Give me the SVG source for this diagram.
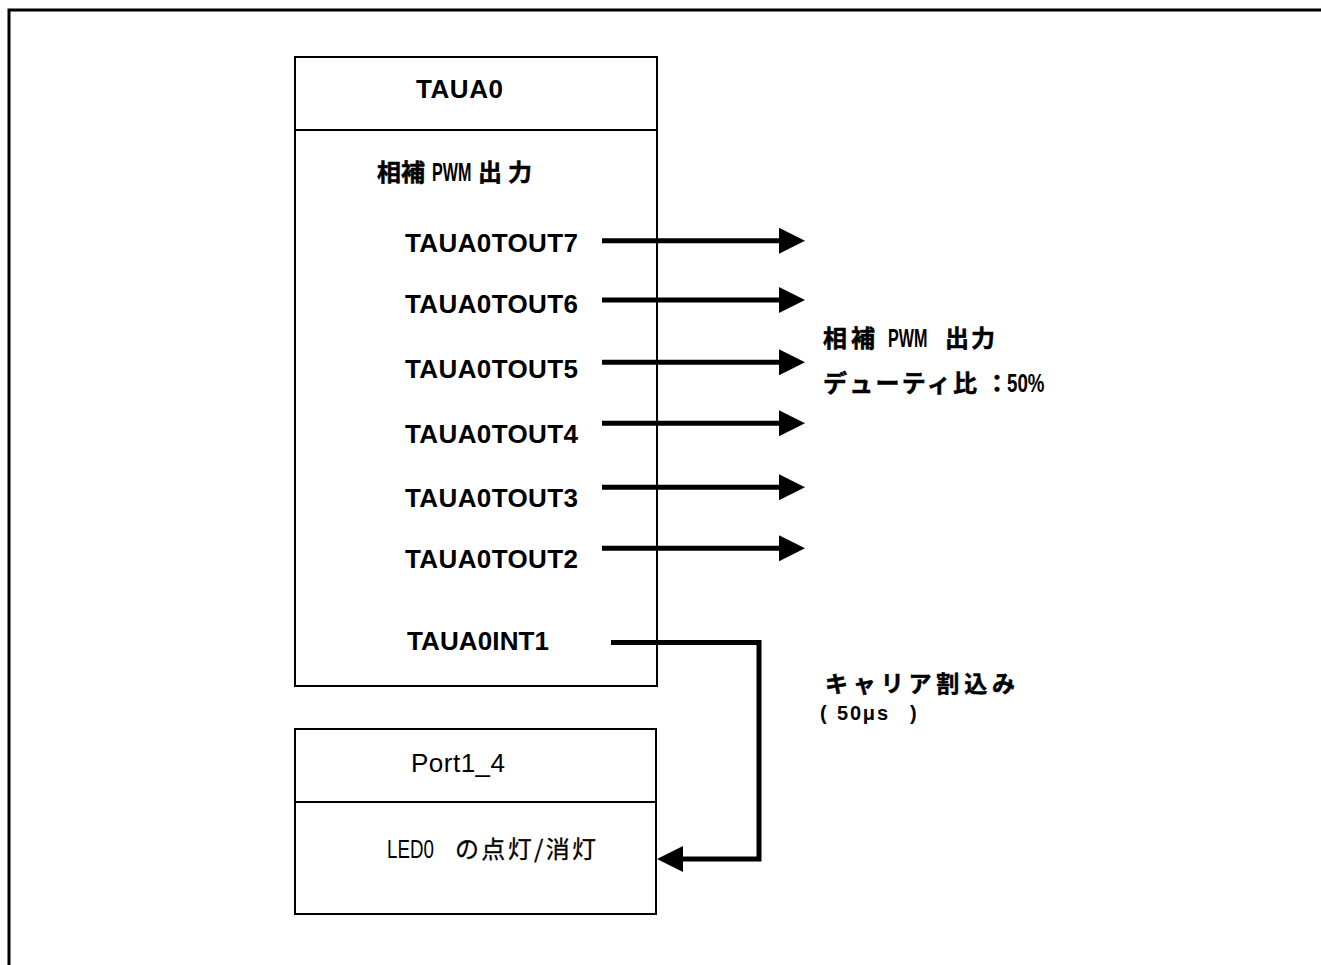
<svg xmlns="http://www.w3.org/2000/svg" width="1321" height="965" viewBox="0 0 1321 965">
<style>
.box{fill:none;stroke:#000;stroke-width:2}
.div{stroke:#000;stroke-width:2}
.lat{font-family:"Liberation Sans",Arial,sans-serif;font-weight:bold;font-size:26px;fill:#000}
.nar{font-family:"Liberation Sans",Arial,sans-serif;font-weight:bold;font-size:26px;fill:#000}
.narr{font-family:"Liberation Sans",Arial,sans-serif;font-weight:normal;font-size:26px;fill:#000}
.jp{font-family:"Noto Sans CJK JP",sans-serif;font-weight:bold;font-size:24px;fill:#000;stroke:#000;stroke-width:0.5}
.jpr{font-family:"Noto Sans CJK JP",sans-serif;font-weight:normal;font-size:24px;fill:#000;stroke:#000;stroke-width:0.3}
.conn{fill:none;stroke:#000;stroke-width:5;stroke-linejoin:miter}
</style>
<defs>
<marker id="ah" markerUnits="userSpaceOnUse" markerWidth="26" markerHeight="26" refX="6" refY="13" orient="auto">
<path d="M0,0 L26,13 L0,26 z" fill="#000"/>
</marker>
</defs>
<rect id="frame" x="9" y="10" width="1400" height="1000" fill="none" stroke="#000" stroke-width="3"/>
<g id="connectors">
<path class="conn" d="M602,240.7 H785" marker-end="url(#ah)"/>
<path class="conn" d="M602,300 H785" marker-end="url(#ah)"/>
<path class="conn" d="M602,362.3 H785" marker-end="url(#ah)"/>
<path class="conn" d="M602,423.3 H785" marker-end="url(#ah)"/>
<path class="conn" d="M602,487.3 H785" marker-end="url(#ah)"/>
<path class="conn" d="M602,548.3 H785" marker-end="url(#ah)"/>
<path class="conn" d="M611,642.5 H759 V859 H677" marker-end="url(#ah)"/>
</g>
<g id="taua0">
<rect class="box" x="295" y="57" width="362" height="629"/>
<line class="div" x1="295" y1="130" x2="657" y2="130"/>
<text class="lat" x="416" y="98" textLength="87">TAUA0</text>
<text class="jp" x="377" y="181" textLength="48">相補</text>
<text class="nar" transform="translate(432,181) scale(0.62,1)">PWM</text>
<text class="jp" x="478" y="181" textLength="54">出力</text>
<text class="lat" x="405" y="252" textLength="173">TAUA0TOUT7</text>
<text class="lat" x="405" y="313" textLength="173">TAUA0TOUT6</text>
<text class="lat" x="405" y="378" textLength="173">TAUA0TOUT5</text>
<text class="lat" x="405" y="443" textLength="173">TAUA0TOUT4</text>
<text class="lat" x="405" y="507" textLength="173">TAUA0TOUT3</text>
<text class="lat" x="405" y="568" textLength="173">TAUA0TOUT2</text>
<text class="lat" x="407" y="650" textLength="142">TAUA0INT1</text>
</g>
<g id="port1_4">
<rect class="box" x="295" y="729" width="361" height="185"/>
<line class="div" x1="295" y1="802" x2="656" y2="802"/>
<text class="narr" x="411" y="772" textLength="94">Port1_4</text>
<text class="narr" transform="translate(387,858) scale(0.72,1)">LED0</text>
<text class="jpr" x="455" y="858" textLength="141">の点灯/消灯</text>
</g>
<g id="pwm-label">
<text class="jp" x="823" y="347" textLength="52">相補</text>
<text class="nar" transform="translate(888,347) scale(0.62,1)">PWM</text>
<text class="jp" x="945" y="347" textLength="50">出力</text>
<text class="jp" x="823" y="392" textLength="154">デューティ比</text>
<text class="jp" x="985" y="392">：</text>
<text class="nar" transform="translate(1007,392) scale(0.72,1)">50%</text>
</g>
<g id="int-label">
<text class="jp" style="font-size:23px" x="825" y="692" textLength="190">キャリア割込み</text>
<text class="nar" style="font-size:20px" x="820" y="720">(</text>
<text class="nar" style="font-size:20px" x="837" y="720" textLength="51">50μs</text>
<text class="nar" style="font-size:20px" x="910" y="720">)</text>
</g>
</svg>
